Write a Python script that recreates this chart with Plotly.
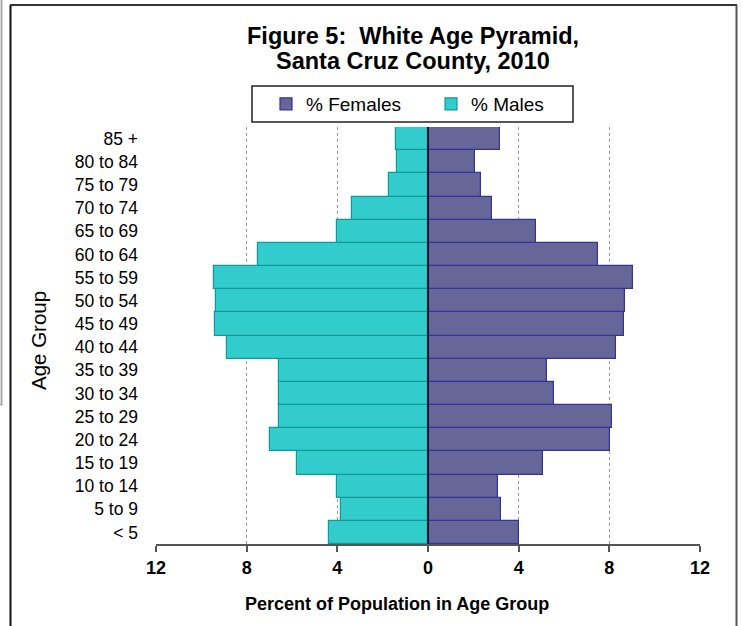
import plotly.graph_objects as go

# Age groups listed bottom-to-top
age_groups = ["< 5", "5 to 9", "10 to 14", "15 to 19", "20 to 24", "25 to 29",
              "30 to 34", "35 to 39", "40 to 44", "45 to 49", "50 to 54",
              "55 to 59", "60 to 64", "65 to 69", "70 to 74", "75 to 79",
              "80 to 84", "85 +"]

# Percent of the white population in each age group
pct_females = [4.01, 3.22, 3.09, 5.09, 8.03, 8.10, 5.56, 5.25, 8.29, 8.65,
               8.69, 9.06, 7.52, 4.76, 2.84, 2.34, 2.07, 3.18]
pct_males = [4.36, 3.86, 4.00, 5.80, 6.95, 6.56, 6.58, 6.59, 8.87, 9.40,
             9.37, 9.43, 7.48, 4.00, 3.35, 1.70, 1.37, 1.40]

x_tick_vals = [-12, -8, -4, 0, 4, 8, 12]
x_tick_text = ["12", "8", "4", "0", "4", "8", "12"]

W, H = 743, 626
L, R, T, B = 156, 700, 127, 544
FONT = "Liberation Sans, Arial, sans-serif"


def px_x(px):
    return (px - L) / (R - L)


def px_y(py):
    return (B - py) / (B - T)


fig = go.Figure()
fig.add_trace(go.Bar(
    y=age_groups, x=pct_females, orientation="h", name="% Females",
    marker=dict(color="#666699", line=dict(color="#333399", width=1.2)),
))
fig.add_trace(go.Bar(
    y=age_groups, x=[-v for v in pct_males], orientation="h", name="% Males",
    marker=dict(color="#33CCCC", line=dict(color="#119999", width=1.2)),
))

shapes = [
    # vertical axis line through zero, drawn over the bars
    dict(type="line", xref="x", yref="paper", x0=0, x1=0, y0=0, y1=1,
         line=dict(color="#111133", width=2), layer="above"),
    # legend box
    dict(type="rect", xref="paper", yref="paper", x0=px_x(252), x1=px_x(573),
         y0=px_y(122), y1=px_y(86), line=dict(color="#222222", width=1.5),
         fillcolor="rgba(0,0,0,0)"),
    # chart frame
    dict(type="line", xref="paper", yref="paper", x0=px_x(10.5), x1=px_x(10.5),
         y0=px_y(5), y1=px_y(640), line=dict(color="#111111", width=2)),
    dict(type="line", xref="paper", yref="paper", x0=px_x(10), x1=px_x(737),
         y0=px_y(5), y1=px_y(5), line=dict(color="#333333", width=2)),
    dict(type="line", xref="paper", yref="paper", x0=px_x(736.5), x1=px_x(736.5),
         y0=px_y(5), y1=px_y(640), line=dict(color="#555555", width=2)),
    dict(type="line", xref="paper", yref="paper", x0=px_x(1.5), x1=px_x(1.5),
         y0=px_y(-5), y1=px_y(405), line=dict(color="#aaaaaa", width=2)),
    dict(type="line", xref="paper", yref="paper", x0=px_x(0), x1=px_x(3),
         y0=px_y(405), y1=px_y(405), line=dict(color="#aaaaaa", width=1)),
]

annotations = [
    dict(text="Figure 5:\u00a0 White Age Pyramid,", xref="paper", yref="paper",
         x=px_x(413), y=px_y(35.5), showarrow=False, xanchor="center",
         yanchor="middle",
         font=dict(family=FONT, size=23.5, color="#000000", weight="bold")),
    dict(text="Santa Cruz County, 2010", xref="paper", yref="paper",
         x=px_x(413), y=px_y(61), showarrow=False, xanchor="center",
         yanchor="middle",
         font=dict(family=FONT, size=23.5, color="#000000", weight="bold")),
    dict(text="Percent of Population in Age Group", xref="paper", yref="paper",
         x=px_x(397), y=px_y(604), showarrow=False, xanchor="center",
         yanchor="middle",
         font=dict(family=FONT, size=18, color="#000000", weight="bold")),
    dict(text="Age Group", xref="paper", yref="paper", textangle=-90,
         x=px_x(38), y=px_y(341), showarrow=False, xanchor="center",
         yanchor="middle", font=dict(family=FONT, size=20.5, color="#000000")),
]

fig.update_layout(
    width=W, height=H,
    margin=dict(l=L, r=W - R, t=T, b=H - B, pad=0),
    paper_bgcolor="white", plot_bgcolor="white",
    barmode="relative", bargap=0,
    font=dict(family=FONT, color="#000000"),
    showlegend=True,
    legend=dict(
        orientation="h", x=px_x(266), y=px_y(104), xanchor="left",
        yanchor="middle", borderwidth=0, bgcolor="rgba(0,0,0,0)",
        font=dict(family=FONT, size=19, color="#000000"),
        entrywidth=120, traceorder="normal",
    ),
    shapes=shapes,
    annotations=annotations,
)

fig.update_xaxes(
    range=[-12, 12], tickvals=x_tick_vals, ticktext=x_tick_text,
    showgrid=True, gridcolor="#999999", griddash="dot", gridwidth=1,
    zeroline=False, showline=True, linecolor="#555555", linewidth=2,
    ticks="outside", ticklen=6, tickcolor="#555555", tickwidth=1.5,
    tickfont=dict(family=FONT, size=18, color="#000000", weight="bold"),
    fixedrange=True,
)
fig.update_yaxes(
    type="category", categoryorder="array", categoryarray=age_groups,
    showgrid=False, zeroline=False, showline=False, ticks="",
    ticklabelstandoff=17,
    tickfont=dict(family=FONT, size=17.5, color="#000000"),
    fixedrange=True,
)

fig.write_html("out.html")
